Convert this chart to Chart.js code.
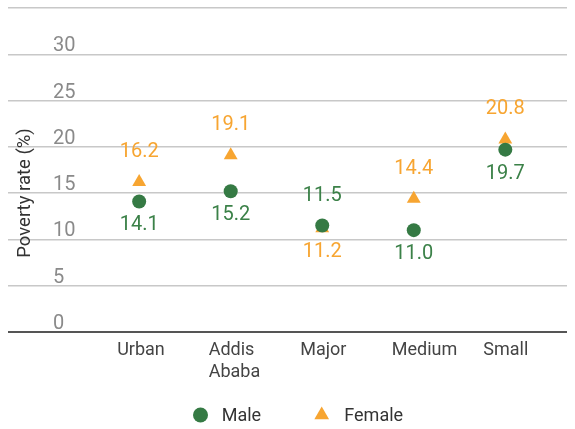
<!DOCTYPE html>
<html>
<head>
<meta charset="utf-8">
<script src="https://cdn.jsdelivr.net/npm/chart.js@4.4.1/dist/chart.umd.min.js"></script>
<style>
  html, body { margin: 0; padding: 0; background: #ffffff; }
  canvas { display: block; }
</style>
</head>
<body>
<canvas id="c" width="575" height="429"></canvas>
<script>
// ---- data ----
const categories = ['Urban', 'Addis Ababa', 'Major', 'Medium', 'Small'];
const maleValues = [14.1, 15.2, 11.5, 11.0, 19.7];
const femaleValues = [16.2, 19.1, 11.2, 14.4, 20.8];
const seriesNames = ['Male', 'Female'];
const yTickValues = [0, 5, 10, 15, 20, 25, 30];
const yTitle = 'Poverty rate (%)';

// ---- styles ----
const GREEN = '#357a44';
const GREEN_TXT = '#3b8148';
const ORANGE = '#f7a531';
const FONT = 'Roboto';

const toPoints = vals => vals.map((v, i) => ({ x: i, y: v }));

const labelPlugin = {
  id: 'valueLabels',
  afterDatasetsDraw(chart) {
    const ctx = chart.ctx;
    ctx.save();
    ctx.font = '20px ' + FONT;
    ctx.textAlign = 'center';
    ctx.textBaseline = 'middle';
    const all = chart.data.datasets.map(ds => ds.data.map(p => p.y));
    chart.data.datasets.forEach((ds, di) => {
      const meta = chart.getDatasetMeta(di);
      ctx.fillStyle = di === 0 ? GREEN_TXT : ORANGE;
      meta.data.forEach((el, i) => {
        const v = ds.data[i].y;
        const other = all[1 - di][i];
        const above = v >= other;
        ctx.fillText(v.toFixed(1), el.x, el.y + (above ? -30 : 24));
      });
    });
    ctx.restore();
  }
};

const titleLegendPlugin = {
  id: 'titleLegend',
  afterDraw(chart) {
    const ctx = chart.ctx;
    ctx.save();
    // y-axis title
    ctx.translate(25, 193);
    ctx.rotate(-Math.PI / 2);
    ctx.font = '18.5px ' + FONT;
    ctx.fillStyle = '#333333';
    ctx.textAlign = 'center';
    ctx.textBaseline = 'middle';
    ctx.fillText(yTitle, 0, 0);
    ctx.restore();

    // legend
    ctx.save();
    const cy = 415;
    const items = [
      { x: 200.5, tx: 221.7, style: 'circle', color: GREEN },
      { x: 321.7, tx: 344.3, style: 'triangle', color: ORANGE }
    ];
    ctx.font = '18px ' + FONT;
    ctx.textBaseline = 'middle';
    ctx.textAlign = 'left';
    items.forEach((it, i) => {
      ctx.fillStyle = it.color;
      ctx.beginPath();
      if (it.style === 'circle') {
        ctx.arc(it.x, cy, 7.5, 0, Math.PI * 2);
      } else {
        const r = 8.5;
        ctx.moveTo(it.x, cy - r);
        ctx.lineTo(it.x + r * Math.sin(Math.PI / 3), cy + r / 2);
        ctx.lineTo(it.x - r * Math.sin(Math.PI / 3), cy + r / 2);
        ctx.closePath();
      }
      ctx.fill();
      ctx.fillStyle = '#333333';
      ctx.fillText(chart.data.datasets[i].label, it.tx, cy + 1);
    });
    ctx.restore();
  }
};

new Chart(document.getElementById('c'), {
  type: 'scatter',
  data: {
    datasets: [
      {
        label: seriesNames[0],
        data: toPoints(maleValues),
        pointStyle: 'circle',
        pointRadius: 7,
        pointHoverRadius: 7,
        pointBorderWidth: 0,
        backgroundColor: GREEN,
        borderColor: GREEN,
        showLine: false
      },
      {
        label: seriesNames[1],
        data: toPoints(femaleValues),
        pointStyle: 'triangle',
        pointRadius: 8,
        pointHoverRadius: 8,
        pointBorderWidth: 0,
        backgroundColor: ORANGE,
        borderColor: ORANGE,
        showLine: false
      }
    ]
  },
  options: {
    responsive: false,
    animation: false,
    devicePixelRatio: 1,
    layout: { padding: { left: 4, right: 0, top: 7, bottom: 0 } },
    plugins: {
      legend: { display: false },
      tooltip: { enabled: false }
    },
    scales: {
      x: {
        type: 'linear',
        min: -1.433,
        max: 4.674,
        grid: { display: false },
        border: { display: false },
        afterFit(scale) {
          scale.height = 97;
          scale.paddingLeft = 0; scale.paddingRight = 0;
          scale.paddingTop = 0; scale.paddingBottom = 0;
        },
        ticks: {
          stepSize: 1,
          autoSkip: false,
          includeBounds: false,
          align: 'start',
          labelOffset: -22,
          padding: 0,
          color: '#444444',
          font: { family: FONT, size: 18 },
          callback(v) {
            const i = Math.round(v);
            if (Math.abs(v - i) > 1e-6 || i < 0 || i >= categories.length) return '';
            return categories[i].split(' ');
          }
        }
      },
      y: {
        min: 0,
        max: 35,
        afterFit(scale) {
          scale.width = 0;
          scale.paddingLeft = 0; scale.paddingRight = 0;
          scale.paddingTop = 0; scale.paddingBottom = 0;
        },
        afterBuildTicks(scale) {
          scale.ticks = yTickValues.concat([35]).map(v => ({ value: v }));
        },
        border: { display: false },
        grid: {
          drawTicks: false,
          color: c => (c.tick && c.tick.value === 0 ? '#555555' : '#c8c8c8'),
          lineWidth: c => (c.tick && c.tick.value === 0 ? 2 : 1.5)
        },
        ticks: {
          mirror: true,
          padding: 45,
          labelOffset: -8,
          color: '#8a8a8a',
          font: { family: FONT, size: 20 },
          callback: v => (yTickValues.includes(v) ? String(v) : '')
        }
      }
    }
  },
  plugins: [labelPlugin, titleLegendPlugin]
});
</script>
</body>
</html>
